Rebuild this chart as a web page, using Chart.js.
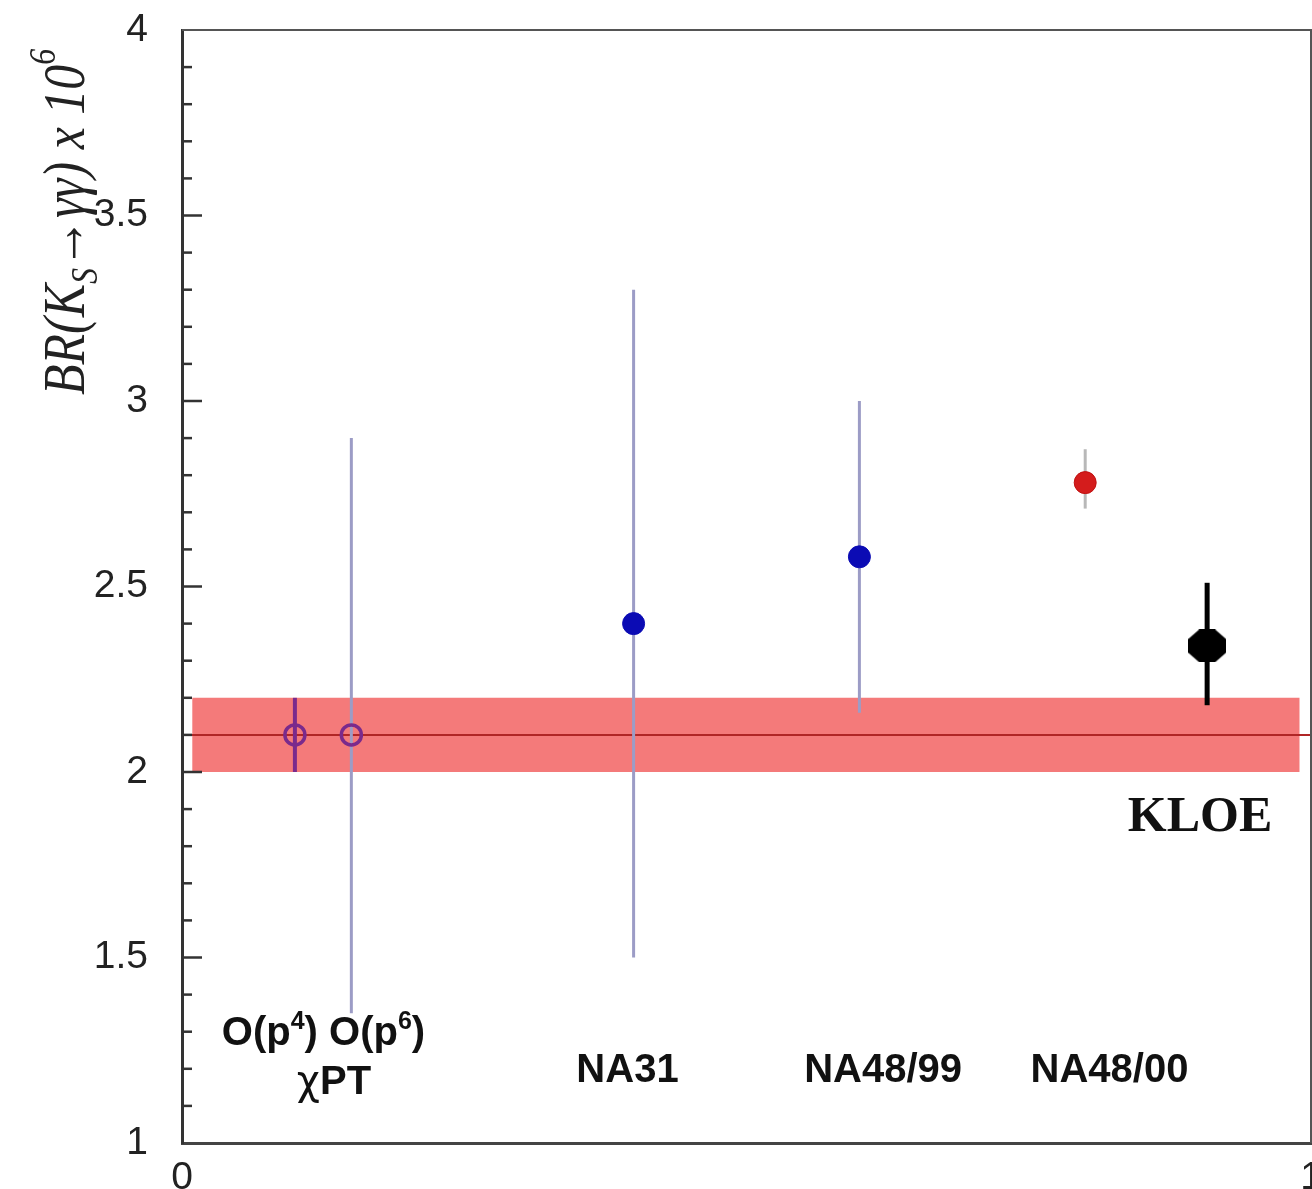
<!DOCTYPE html>
<html>
<head>
<meta charset="utf-8">
<title>BR(KS → γγ) x 10^6</title>
<script src="https://cdn.jsdelivr.net/npm/chart.js@4.4.1/dist/chart.umd.min.js"></script>
<style>
  html, body { margin: 0; padding: 0; background: #fff; }
  #wrap { width: 1312px; height: 1189px; }
</style>
</head>
<body>
<div id="wrap"><canvas id="chart" width="1312" height="1189"></canvas></div>
<script>
const names   = ['O(p4)', 'O(p6)', 'NA31', 'NA48/99', 'NA48/00', 'KLOE'];
const xPos    = [0.100, 0.150, 0.400, 0.600, 0.800, 0.908];
const central = [2.10, 2.10, 2.40, 2.58, 2.78, 2.34];
const errLow  = [2.00, 1.35, 1.50, 2.16, 2.71, 2.18];
const errHigh = [2.20, 2.90, 3.30, 3.00, 2.87, 2.51];

// KLOE result band
const bandCentral = 2.10;
const bandLow  = 2.00;
const bandHigh = 2.20;
const bandX    = [0.009, 0.99];
const lineX    = [0, 1];

// axes
const yRange  = [1, 4];
const yMajor  = 0.5;
const yMinor  = 0.1;
const xRange  = [0, 1];

// styles (one per point)
const barColor   = ['#7a2a8c', '#9c9cc6', '#9c9cc6', '#9c9cc6', '#b8b8b8', '#000000'];
const barWidth   = [4, 3, 3, 3, 3, 5];
const markFill   = ['rgba(0,0,0,0)', 'rgba(0,0,0,0)', '#0b0bb4', '#0b0bb4', '#d41c1c', '#000000'];
const markEdge   = ['#7a2a8c', '#7a2a8c', '#0b0bb4', '#0b0bb4', '#c01010', '#000000'];
const markRadius = [10, 10, 11, 11, 11, 18];

function octagon(w, h) {
  const c = document.createElement('canvas');
  c.width = w; c.height = h;
  const g = c.getContext('2d');
  const rx = (w / 2) / Math.cos(Math.PI / 8), ry = (h / 2) / Math.cos(Math.PI / 8);
  g.fillStyle = '#000';
  g.beginPath();
  for (let i = 0; i < 8; i++) {
    const a = Math.PI / 8 + i * Math.PI / 4;
    const px = w / 2 + rx * Math.cos(a), py = h / 2 + ry * Math.sin(a);
    if (i === 0) g.moveTo(px, py); else g.lineTo(px, py);
  }
  g.closePath();
  g.fill();
  return c;
}
const markStyle = ['circle', 'circle', 'circle', 'circle', 'circle', octagon(38, 33)];

const SANS = '"Liberation Sans", Arial, sans-serif';
const SERIF = '"Liberation Serif", "Times New Roman", serif';

// text notes placed in data coordinates (cap-centre)
const notes = [
  { x: 0.1253, y: 1.302, size: 40, runs: [
      { t: 'O(p', f: 'bold 40px ' + SANS },
      { t: '4', f: 'bold 25px ' + SANS, dy: -16 },
      { t: ') O(p', f: 'bold 40px ' + SANS },
      { t: '6', f: 'bold 25px ' + SANS, dy: -16 },
      { t: ')', f: 'bold 40px ' + SANS }] },
  { x: 0.1346, y: 1.170, size: 40, runs: [
      { t: 'χ', f: '40px "DejaVu Sans", sans-serif' },
      { t: 'PT', f: 'bold 40px ' + SANS }] },
  { x: 0.3946, y: 1.202, size: 40, runs: [{ t: 'NA31', f: 'bold 40px ' + SANS }] },
  { x: 0.6210, y: 1.202, size: 40, runs: [{ t: 'NA48/99', f: 'bold 40px ' + SANS }] },
  { x: 0.8215, y: 1.202, size: 40, runs: [{ t: 'NA48/00', f: 'bold 40px ' + SANS }] },
  { x: 0.9017, y: 1.887, size: 48, runs: [{ t: 'KLOE', f: 'bold 50px ' + SERIF }] }
];

const yTitle = [
  { t: 'BR(K', f: 'italic 50px ' + SERIF },
  { t: 'S', f: 'italic 32px ' + SERIF, dy: 11 },
  { t: '→γγ) x 10', f: 'italic 50px ' + SERIF },
  { t: '6', f: 'italic 32px ' + SERIF, dy: -24 }
];

function drawRuns(ctx, runs, x, y, align) {
  let total = 0;
  runs.forEach(r => { ctx.font = r.f; r.w = ctx.measureText(r.t).width; total += r.w; });
  let cx = align === 'center' ? x - total / 2 : x;
  runs.forEach(r => { ctx.font = r.f; ctx.fillText(r.t, cx, y + (r.dy || 0)); cx += r.w; });
}

const isMajor = v => Math.abs(v / yMajor - Math.round(v / yMajor)) < 1e-6;

// frame, inner tick marks, text
const decorations = {
  id: 'decorations',
  afterDraw(chart) {
    const ctx = chart.ctx, a = chart.chartArea;
    const ys = chart.scales.y, xs = chart.scales.x;
    ctx.save();
    // top and right frame
    ctx.strokeStyle = '#555';
    ctx.lineWidth = 2;
    ctx.beginPath();
    ctx.moveTo(a.left, a.top); ctx.lineTo(a.right, a.top); ctx.lineTo(a.right, a.bottom);
    ctx.stroke();
    // inner ticks on the y axis
    ctx.strokeStyle = '#333';
    ctx.lineWidth = 2.5;
    ys.ticks.forEach(t => {
      if (t.value <= yRange[0] + 1e-6 || t.value >= yRange[1] - 1e-6) return;
      const py = ys.getPixelForValue(t.value);
      const len = isMajor(t.value) ? 20 : 10;
      ctx.beginPath();
      ctx.moveTo(a.left, py); ctx.lineTo(a.left + len, py);
      ctx.stroke();
    });
    // labels
    ctx.fillStyle = '#111';
    ctx.textBaseline = 'alphabetic';
    notes.forEach(n => {
      const px = xs.getPixelForValue(n.x);
      const py = ys.getPixelForValue(n.y) + n.size * 0.36;
      drawRuns(ctx, n.runs, px, py, 'center');
    });
    // y title, rotated
    ctx.fillStyle = '#222';
    ctx.translate(84, 395);
    ctx.rotate(-Math.PI / 2);
    ctx.scale(1, 1.2);
    drawRuns(ctx, yTitle, 0, 0, 'left');
    ctx.restore();
  }
};

const datasets = [];
// band
datasets.push({
  data: [{ x: bandX[0], y: bandHigh }, { x: bandX[1], y: bandHigh }],
  showLine: true, pointRadius: 0, borderWidth: 1, borderColor: 'rgba(0,0,0,0)',
  backgroundColor: '#f47a7a', fill: { value: bandLow }, order: 10
});
// central line
datasets.push({
  data: [{ x: lineX[0], y: bandCentral }, { x: lineX[1], y: bandCentral }],
  showLine: true, pointRadius: 0, borderWidth: 2, borderColor: '#b02626', fill: false, order: 9
});
// error bars
names.forEach((n, i) => {
  datasets.push({
    label: n + ' error',
    data: [{ x: xPos[i], y: errLow[i] }, { x: xPos[i], y: errHigh[i] }],
    showLine: true, pointRadius: 0, borderWidth: barWidth[i], borderColor: barColor[i],
    borderCapStyle: 'butt', fill: false, order: 5
  });
});
// markers
datasets.push({
  label: 'points',
  data: names.map((n, i) => ({ x: xPos[i], y: central[i] })),
  showLine: false,
  pointStyle: markStyle,
  pointRadius: markRadius,
  pointBackgroundColor: markFill,
  pointBorderColor: markEdge,
  pointBorderWidth: [3.5, 3.5, 1, 1, 1, 0],
  order: 1
});

new Chart(document.getElementById('chart'), {
  type: 'scatter',
  data: { datasets },
  options: {
    responsive: false,
    animation: false,
    devicePixelRatio: 1,
    events: [],
    layout: { autoPadding: false, padding: { left: 0, top: 30, right: 1, bottom: 0 } },
    plugins: { legend: { display: false }, tooltip: { enabled: false } },
    scales: {
      x: {
        type: 'linear', min: xRange[0], max: xRange[1],
        grid: { display: false, drawTicks: false },
        border: { display: true, color: '#444', width: 3 },
        ticks: { stepSize: 1, padding: 12, color: '#222', font: { family: SANS, size: 39 } },
        afterFit(s) { s.height = 46; s.paddingLeft = 0; s.paddingRight = 0; }
      },
      y: {
        type: 'linear', min: yRange[0], max: yRange[1],
        grid: { display: false, drawTicks: false },
        border: { display: true, color: '#333', width: 3 },
        ticks: {
          stepSize: yMinor, autoSkip: false, padding: 34, color: '#222',
          font: { family: SANS, size: 39 },
          callback: v => isMajor(v) ? String(Math.round(v * 10) / 10) : ''
        },
        afterFit(s) { s.width = 182; s.paddingTop = 0; s.paddingBottom = 0; }
      }
    }
  },
  plugins: [decorations]
});
</script>
</body>
</html>
